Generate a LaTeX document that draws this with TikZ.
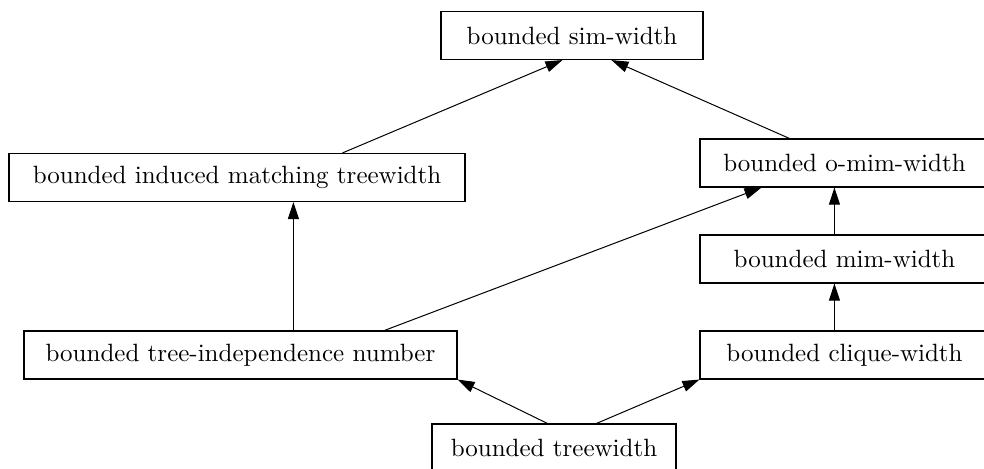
\documentclass[tikz,border=0pt]{standalone}
\usetikzlibrary{arrows.meta,calc}
\begin{document}
\begin{tikzpicture}[x=0.4pt,y=-0.4pt,
  box/.style={draw,line width=0.45pt,inner sep=0pt,minimum height=48*0.4pt,font=\fontsize{10}{12}\selectfont},
  arr/.style={line width=0.4pt,-{Triangle[length=6.8pt,width=4.4pt]}}]
\useasboundingbox (0,0) rectangle (984,468);
\clip (0,0) rectangle (984,468);
\node[box,minimum width=262*0.4pt] (sim) at (572,35.5) {bounded sim-width};
\node[box,minimum width=456*0.4pt] (ind) at (237,177.5) {bounded induced matching treewidth};
\node[box,minimum width=289*0.4pt] (omim) at (844.5,163) {bounded o-mim-width};
\node[box,minimum width=289*0.4pt] (mim) at (844.5,259) {bounded mim-width};
\node[box,minimum width=433*0.4pt] (tin) at (240.5,355) {bounded tree-independence number};
\node[box,minimum width=289*0.4pt] (cw) at (844.5,355) {bounded clique-width};
\node[box,minimum width=244*0.4pt] (tw) at (554,448) {bounded treewidth};
\draw[arr] ($(ind.north west)+(334,0)$) -- ($(sim.south west)+(122,0)$);
\draw[arr] ($(omim.north west)+(90,0)$) -- ($(sim.south west)+(171,0)$);
\draw[arr] ($(tin.north west)+(270,0)$) -- ($(ind.south west)+(285,0)$);
\draw[arr] ($(tin.north west)+(361,0)$) -- ($(omim.south west)+(62,0)$);
\draw[arr] ($(mim.north west)+(135,0)$) -- ($(omim.south west)+(135,0)$);
\draw[arr] ($(cw.north west)+(135,0)$) -- ($(mim.south west)+(135,0)$);
\draw[arr] ($(tw.north west)+(116,0)$) -- (tin.south east);
\draw[arr] ($(tw.north west)+(165,0)$) -- (cw.south west);
\end{tikzpicture}
\end{document}
